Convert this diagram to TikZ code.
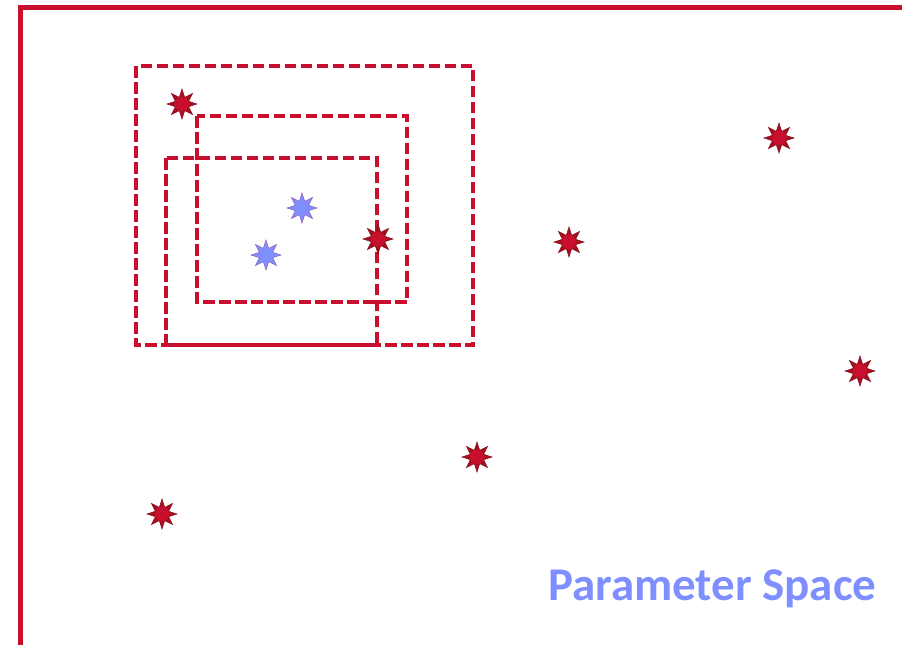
\documentclass[tikz,border=0pt]{standalone}
\usepackage{fontspec}
\setmainfont{Carlito}
\usepackage{tikz}
\usetikzlibrary{shapes.geometric}
\definecolor{frame}{HTML}{C8102E}
\definecolor{pt}{HTML}{A50F20}
\definecolor{ptcore}{HTML}{C8102E}
\definecolor{hit}{HTML}{7F8FFF}
\definecolor{hitline}{HTML}{8A5FB8}
\tikzset{
  axis/.style={draw=frame, line width=5pt, line cap=rect},
  win/.style={draw=frame, line width=3.8pt, dash pattern=on 11.5pt off 4.5pt},
  redstar/.style={star, star points=8, star point ratio=2.1, minimum size=30pt, inner sep=0pt, fill=pt, draw=pt!80!black, line width=0.5pt},
  bluestar/.style={star, star points=8, star point ratio=2.1, minimum size=30pt, inner sep=0pt, fill=hit, draw=hitline, line width=0.5pt},
  core/.style={circle, minimum size=15pt, inner sep=0pt, fill=ptcore, draw=pt, line width=0.5pt},
  lab/.style={text=hit, font=\fontsize{47}{51}\selectfont\bfseries},
}
\begin{document}
\begin{tikzpicture}[x=1pt, y=-1pt]
  \useasboundingbox (0,0) rectangle (902,645);
  % axes
  \coordinate (O) at (20,645);
  \coordinate (C) at (20,7);
  \coordinate (E) at (902,7);
  \draw[axis] (O) -- (C) -- (E);
  % search windows
  \draw[win] (136,66) rectangle (473,345);
  \draw[win] (197,116) rectangle (407,302);
  \draw[win] (166,158) rectangle (377,345);
  % samples
  \foreach \name/\x/\y in {a/182/104, b/378/239, c/569/242, d/779/138, e/860/371, f/477/457, g/162/514}{
    \node[redstar] (\name) at (\x,\y) {};
    \node[core] at (\name) {};
  }
  \node[bluestar] (h1) at (302,208) {};
  \node[bluestar] (h2) at (266,255) {};
  % label
  \node[lab, anchor=base east] (title) at (880,600) {Parameter Space};
\end{tikzpicture}
\end{document}
